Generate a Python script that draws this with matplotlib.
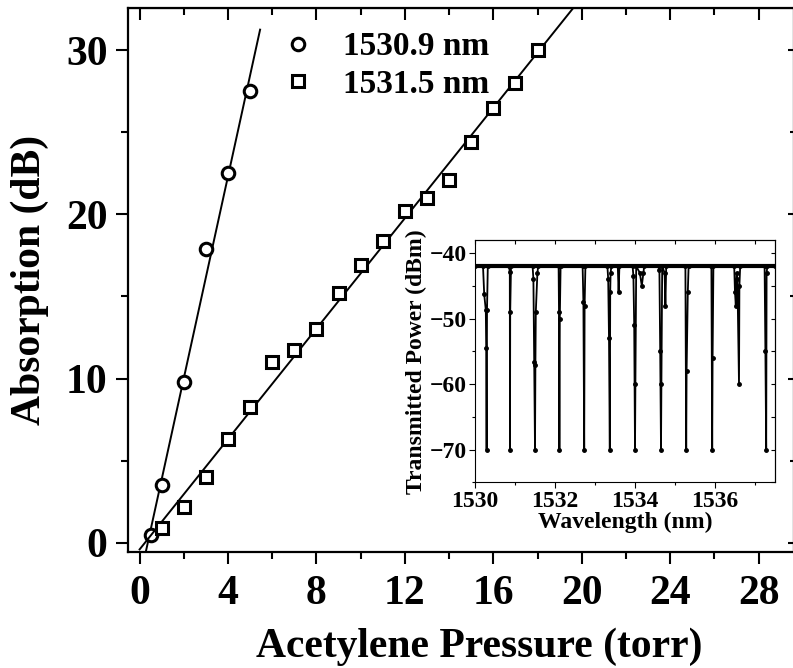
import numpy as np
import matplotlib
matplotlib.use("Agg")
import matplotlib.pyplot as plt
from matplotlib.ticker import MultipleLocator

plt.rcParams['font.family'] = ['Liberation Serif', 'DejaVu Serif']
plt.rcParams['font.weight'] = 'bold'
plt.rcParams['axes.labelweight'] = 'bold'

# absorption vs pressure
p_1530 = [0.5, 1, 2, 3, 4, 5]
a_1530 = [0.5, 3.5, 9.8, 17.9, 22.5, 27.5]
p_1531 = [1, 2, 3, 4, 5, 6, 7, 8, 9, 10, 11, 12, 13, 14, 15, 16, 17, 18]
a_1531 = [0.9, 2.2, 4.0, 6.3, 8.3, 11.0, 11.75, 13.0, 15.2, 16.9,
          18.4, 20.2, 21.0, 22.1, 24.4, 26.5, 28.0, 30.0]
fit_range_1530 = [0.25, 5.45]
fit_range_1531 = [0.0, 20.5]

# inset spectrum (sampled trace)
wl = [1530.0, 1530.2, 1530.23, 1530.27, 1530.28, 1530.29, 1530.30, 1530.32,
      1530.85, 1530.87, 1530.875, 1530.88, 1530.9,
      1531.44, 1531.46, 1531.48, 1531.5, 1531.51, 1531.52, 1531.56, 1531.58,
      1532.09, 1532.1, 1532.11, 1532.12, 1532.14,
      1532.69, 1532.71, 1532.73, 1532.74, 1532.76,
      1533.31, 1533.33, 1533.35, 1533.37, 1533.38, 1533.39, 1533.41,
      1533.57, 1533.59, 1533.61,
      1533.94, 1533.96, 1533.98, 1534.0, 1534.01, 1534.03,
      1534.12, 1534.17, 1534.21, 1534.23,
      1534.59, 1534.61, 1534.63, 1534.65, 1534.66, 1534.68,
      1534.74, 1534.76, 1534.78,
      1535.26, 1535.28, 1535.29, 1535.32, 1535.34,
      1535.91, 1535.93, 1535.94, 1535.96,
      1536.48, 1536.5, 1536.52, 1536.54, 1536.56, 1536.6, 1536.61, 1536.63,
      1537.24, 1537.26, 1537.28, 1537.29, 1537.31, 1537.5]
pw = [-42, -42, -46.3, -48.7, -54.5, -70, -48.7, -42,
      -42, -42.9, -70, -49, -42,
      -42, -44, -56.6, -70, -57, -49, -43, -42,
      -42, -49, -70, -50, -42,
      -42, -47.5, -70, -48, -42,
      -42, -44, -53, -70, -46, -43, -42,
      -42, -46, -42,
      -42, -43.5, -51, -70, -60, -42,
      -43, -45, -43, -42,
      -42, -42.5, -55, -70, -60, -42,
      -43, -48, -42,
      -42, -70, -58, -46, -42,
      -42, -70, -56, -42,
      -42, -46, -48, -43, -44, -60, -45, -42,
      -42, -55, -70, -43, -42, -42]
baseline_pw = -42

fig = plt.figure(figsize=(7.93, 6.68), dpi=100)
ax = fig.add_axes([0.161, 0.1737, 0.8402, 0.8144])

for p, a, rng, mk, lab in [(p_1530, a_1530, fit_range_1530, 'o', '1530.9 nm'),
                           (p_1531, a_1531, fit_range_1531, 's', '1531.5 nm')]:
    k, b = np.polyfit(p, a, 1)
    xs = np.array(rng)
    ax.plot(xs, k * xs + b, color='black', lw=1.4)
    ax.plot(p, a, mk, ms=9, mfc='white', mec='black', mew=2.2, ls='none', label=lab)

ax.set_xlim(-0.54, 29.6)
ax.set_ylim(-0.55, 32.56)
ax.xaxis.set_major_locator(MultipleLocator(4))
ax.xaxis.set_minor_locator(MultipleLocator(2))
ax.yaxis.set_major_locator(MultipleLocator(10))
ax.yaxis.set_minor_locator(MultipleLocator(5))
ax.tick_params(which='major', direction='out', length=8.5, width=1.5, labelsize=30, pad=6)
ax.tick_params(which='minor', direction='out', length=5, width=1.5)
ax.tick_params(axis='x', which='major', pad=8)
for s in ax.spines.values():
    s.set_linewidth(1.6)

top = ax.secondary_xaxis('top')
top.xaxis.set_major_locator(MultipleLocator(4))
top.xaxis.set_minor_locator(MultipleLocator(2))
top.tick_params(which='major', direction='in', length=8.5, width=1.5, labeltop=False)
top.tick_params(which='minor', direction='in', length=5, width=1.5)
right = ax.secondary_yaxis('right')
right.yaxis.set_major_locator(MultipleLocator(10))
right.yaxis.set_minor_locator(MultipleLocator(5))
right.tick_params(which='major', direction='in', length=4, width=1.5, labelright=False)
right.tick_params(which='minor', direction='in', length=3, width=1.5)

fig.text(479 / 793, 1 - 647 / 668, 'Acetylene Pressure (torr)', fontsize=30,
         fontweight='bold', ha='center', va='center')
fig.text(30 / 793, 1 - 280 / 668, 'Absorption (dB)', fontsize=30,
         fontweight='bold', ha='center', va='center', rotation=90)

leg = ax.legend(loc='upper left', bbox_to_anchor=(0.2, 1.0), frameon=False,
                fontsize=24, handlelength=0.8, handletextpad=0.95, labelspacing=0.2,
                borderaxespad=0.3)

# inset
ins = fig.add_axes([0.599, 0.2777, 0.3783, 0.363])
ins.axhline(baseline_pw, color='black', lw=3)
ins.plot(wl, pw, '-o', color='black', lw=1.3, ms=2.5)
ins.set_xlim(1530, 1537.5)
ins.set_ylim(-75, -38)
ins.xaxis.set_major_locator(MultipleLocator(2))
ins.xaxis.set_minor_locator(MultipleLocator(1))
ins.yaxis.set_major_locator(MultipleLocator(10))
ins.yaxis.set_minor_locator(MultipleLocator(5))
ins.tick_params(which='major', direction='out', length=4, width=0.8, labelsize=17, pad=2)
ins.tick_params(which='minor', direction='out', length=2.5, width=0.8)
for s in ins.spines.values():
    s.set_linewidth(0.8)
itop = ins.secondary_xaxis('top')
itop.xaxis.set_major_locator(MultipleLocator(1))
itop.tick_params(direction='in', length=3, width=0.8, labeltop=False)
iright = ins.secondary_yaxis('right')
iright.yaxis.set_major_locator(MultipleLocator(5))
iright.tick_params(direction='in', length=3, width=0.8, labelright=False)
ins.set_xlabel('Wavelength (nm)', fontsize=17, fontweight='bold', labelpad=0)
ins.set_ylabel('Transmitted Power (dBm)', fontsize=17, fontweight='bold', labelpad=2)

fig.savefig('out.png', dpi=100)
